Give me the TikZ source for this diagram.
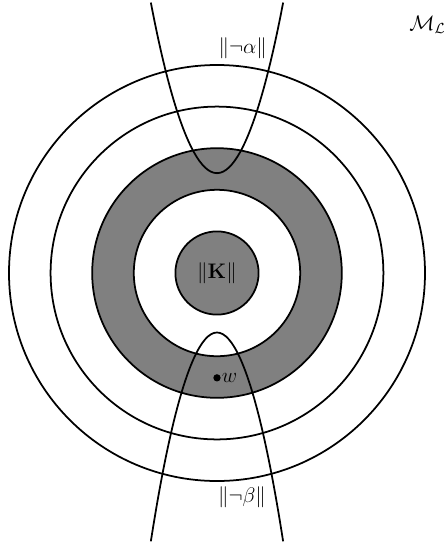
\documentclass[tikz,border=0pt]{standalone}
\usepackage{amsmath,amssymb}
\usetikzlibrary{positioning}
\begin{document}
\begin{tikzpicture}[every node/.style={font=\Large}, ring/.style={line width=1.2pt}]
\useasboundingbox (-5.216,-6.490) rectangle (5.457,6.5625);
% gray spheres
\fill[gray, even odd rule] (0,0) circle (3) (0,0) circle (2);
\fill[gray] (0,0) circle (1);
\foreach \r in {1,...,5}
  \draw[ring] (0,0) circle (\r);
% the two parabolas
\draw[ring] (-1.59,6.5) parabola bend (0,2.40) (1.59,6.5);
\draw[ring] (-1.59,-6.45) parabola bend (0,-1.43) (1.59,-6.45);
% labels
\node (K) at (0,0) {$\|\mathbf{K}\|$};
\node[anchor=west] (ML) at (4.5,5.96) {$\mathcal{M}_{\mathcal{L}}$};
\node (nalpha) at (0.62,5.41) {$\|\neg\alpha\|$};
\node (nbeta) at (0.6,-5.38) {$\|\neg\beta\|$};
\node[circle, fill, inner sep=0pt, minimum size=5pt] (w) at (0,-2.52) {};
\node[right=0.5pt of w, inner sep=0pt] (wlabel) {$w$};
\end{tikzpicture}
\end{document}
